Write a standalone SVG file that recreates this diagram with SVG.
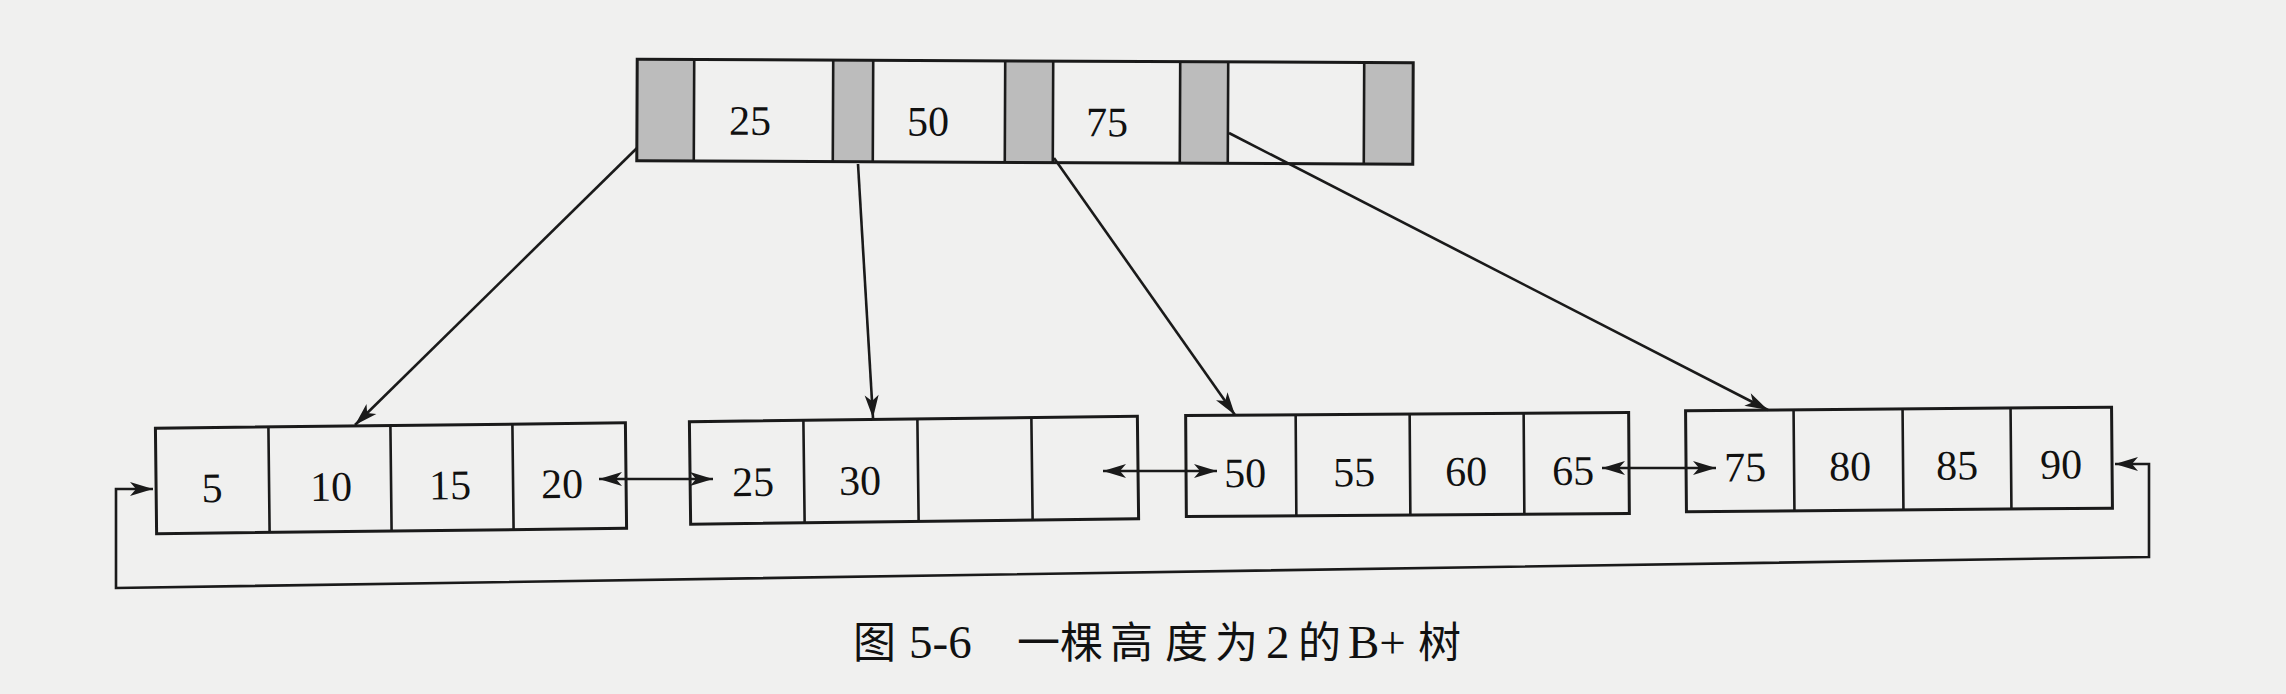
<svg xmlns="http://www.w3.org/2000/svg" width="2286" height="694" viewBox="0 0 2286 694">
<style>
.box{fill:none;stroke:#1a1a1a;stroke-width:3}
.gray{fill:#bcbcbc;stroke:none}
.div{stroke:#1a1a1a;stroke-width:2.6}
.num{font-family:"Liberation Serif","Times New Roman",serif;font-size:42px;fill:#111;text-anchor:middle}
.edge{fill:none;stroke:#1a1a1a;stroke-width:2.6}
.cap{font-family:"Liberation Serif","Noto Sans CJK SC",serif;fill:#111}
.cjk{font-family:"Noto Sans CJK SC",sans-serif;font-size:43px}
.lat{font-family:"Liberation Serif",serif;font-size:47px}
</style>
<defs>
<marker id="ah" viewBox="-25 -8 26 16" refX="0" refY="0" markerWidth="26" markerHeight="16" markerUnits="userSpaceOnUse" orient="auto-start-reverse">
<path d="M0,0 L-23,-7 L-17,0 L-23,7 Z" fill="#1a1a1a"/>
</marker>
</defs>
<rect width="2286" height="694" fill="#f0f0ef"/>

<g id="root" transform="rotate(0.25 1025 112)">
<rect class="gray" x="637" y="61" width="57" height="101.5"/>
<rect class="gray" x="833" y="61" width="40" height="101.5"/>
<rect class="gray" x="1005" y="61" width="48" height="101.5"/>
<rect class="gray" x="1180" y="61" width="48" height="101.5"/>
<rect class="gray" x="1364" y="61" width="49" height="101.5"/>
<rect class="box" x="637" y="61" width="776" height="101.5"/>
<path class="div" d="M694,61V162.5M833,61V162.5M873,61V162.5M1005,61V162.5M1053,61V162.5M1180,61V162.5M1228,61V162.5M1364,61V162.5"/>
<text class="num" x="750" y="136">25</text>
<text class="num" x="928" y="136">50</text>
<text class="num" x="1107" y="136">75</text>
</g>

<g id="leaf1" transform="rotate(-0.65 391 478)">
<rect class="box" x="156" y="425.5" width="470" height="105.5"/>
<path class="div" d="M269,425.5V531M391,425.5V531M513,425.5V531"/>
<text class="num" x="212" y="500">5</text>
<text class="num" x="331" y="500">10</text>
<text class="num" x="450" y="500">15</text>
<text class="num" x="562" y="500">20</text>
</g>

<g id="leaf2" transform="rotate(-0.7 914 470)">
<rect class="box" x="690" y="419" width="448" height="102.5"/>
<path class="div" d="M804,419V521.5M918,419V521.5M1032,419V521.5"/>
<text class="num" x="753" y="494">25</text>
<text class="num" x="860" y="494">30</text>
</g>

<g id="leaf3" transform="rotate(-0.4 1407.5 464.5)">
<rect class="box" x="1186" y="414" width="443" height="101"/>
<path class="div" d="M1296,414V515M1410,414V515M1524,414V515"/>
<text class="num" x="1245" y="486">50</text>
<text class="num" x="1354" y="486">55</text>
<text class="num" x="1466" y="486">60</text>
<text class="num" x="1573" y="486">65</text>
</g>

<g id="leaf4" transform="rotate(-0.5 1899 459.5)">
<rect class="box" x="1686" y="409" width="426" height="101"/>
<path class="div" d="M1794,409V510M1903,409V510M2011,409V510"/>
<text class="num" x="1745" y="480">75</text>
<text class="num" x="1850" y="480">80</text>
<text class="num" x="1957" y="480">85</text>
<text class="num" x="2061" y="480">90</text>
</g>

<g id="connectors">
<line class="edge" x1="637" y1="148" x2="355" y2="425" marker-end="url(#ah)"/>
<line class="edge" x1="858" y1="164" x2="873" y2="418" marker-end="url(#ah)"/>
<line class="edge" x1="1054" y1="158" x2="1235" y2="415" marker-end="url(#ah)"/>
<line class="edge" x1="1229" y1="133" x2="1768" y2="410" marker-end="url(#ah)"/>
<line class="edge" x1="599" y1="479" x2="713" y2="479" marker-start="url(#ah)" marker-end="url(#ah)"/>
<line class="edge" x1="1103" y1="471" x2="1217" y2="471" marker-start="url(#ah)" marker-end="url(#ah)"/>
<line class="edge" x1="1602" y1="468" x2="1716" y2="468" marker-start="url(#ah)" marker-end="url(#ah)"/>
<path class="edge" d="M2115,464 L2149,464 L2149,557 L116,588 L116,489 L153,489" marker-start="url(#ah)" marker-end="url(#ah)"/>
</g>

<g id="caption">
<text class="cap" y="658"><tspan class="cjk" x="853">图</tspan><tspan class="lat" x="909">5-6</tspan><tspan class="cjk" x="1017 1060 1110 1165 1215">一棵高度为</tspan><tspan class="lat" x="1266">2</tspan><tspan class="cjk" x="1298">的</tspan><tspan class="lat" x="1348">B+</tspan><tspan class="cjk" x="1418">树</tspan></text>
</g>
</svg>
